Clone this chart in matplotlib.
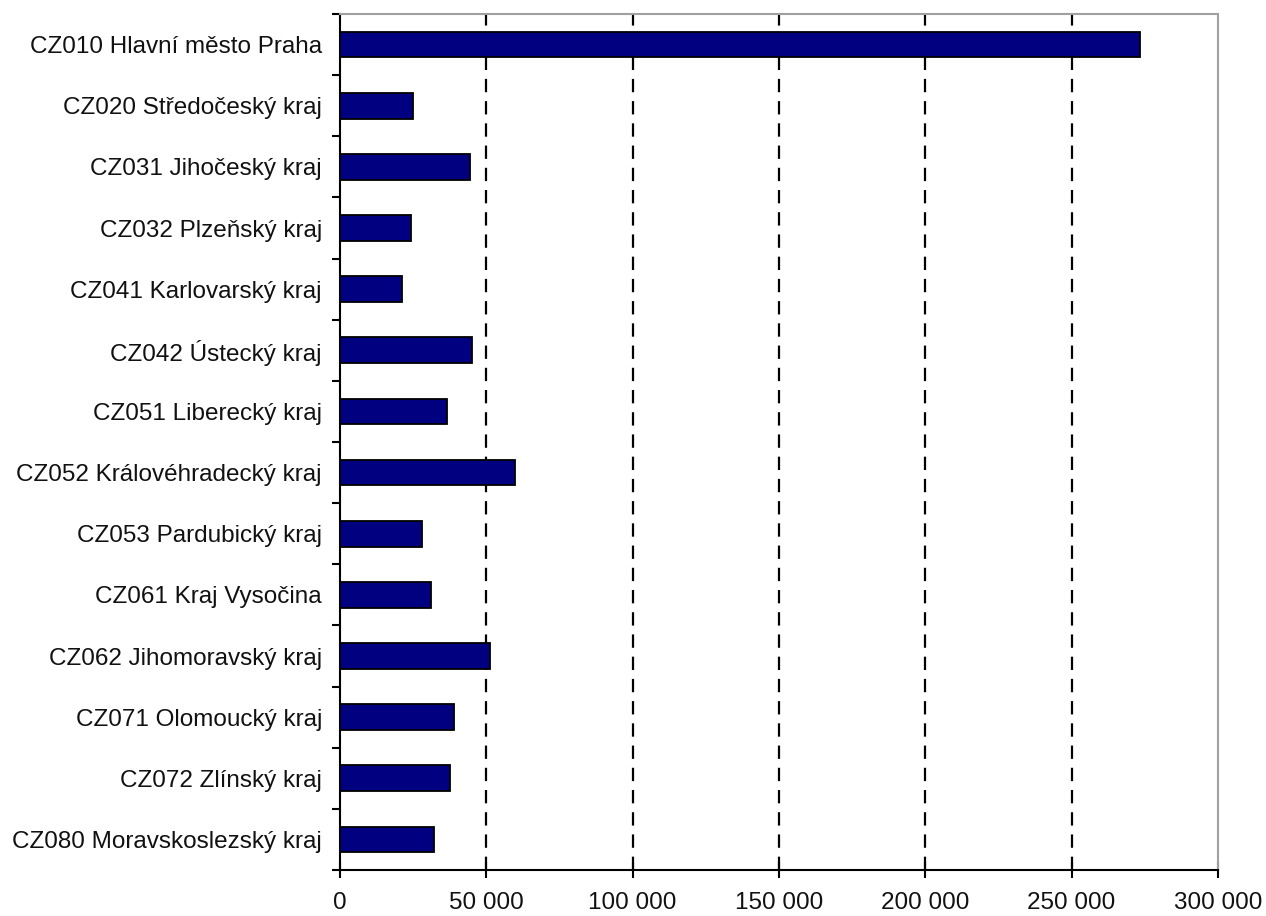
import matplotlib.pyplot as plt
import numpy as np
from matplotlib.ticker import FuncFormatter

plt.rcParams['font.family'] = ['Liberation Sans', 'DejaVu Sans']

regions = ['CZ010 Hlavní město Praha', 'CZ020 Středočeský kraj', 'CZ031 Jihočeský kraj',
           'CZ032 Plzeňský kraj', 'CZ041 Karlovarský kraj', 'CZ042 Ústecký kraj',
           'CZ051 Liberecký kraj', 'CZ052 Královéhradecký kraj', 'CZ053 Pardubický kraj',
           'CZ061 Kraj Vysočina', 'CZ062 Jihomoravský kraj', 'CZ071 Olomoucký kraj',
           'CZ072 Zlínský kraj', 'CZ080 Moravskoslezský kraj']
values = [273400, 25000, 44400, 24300, 21100, 45200, 36600, 59800, 28100, 31200,
          51300, 39000, 37500, 32000]
x_ticks = [0, 50000, 100000, 150000, 200000, 250000, 300000]

fig = plt.figure(figsize=(12.66, 9.16), dpi=100)
ax = fig.add_axes([0.2686, 0.0502, 0.6934, 0.9345])

y = np.arange(len(regions))
ax.barh(y, values, height=0.42, color='#000080', edgecolor='black', linewidth=1.3, zorder=3)

ax.set_xlim(0, 300000)
ax.set_ylim(len(regions) - 0.5, -0.5)
ax.set_xticks(x_ticks)
ax.xaxis.set_major_formatter(FuncFormatter(lambda v, p: f'{int(v):,}'.replace(',', ' ')))
ax.set_yticks(y)
ax.set_yticklabels(regions)
ax.set_yticks(np.arange(len(regions) + 1) - 0.5, minor=True)

ax.tick_params(axis='y', which='major', length=0, pad=13, labelsize=17.5, labelcolor='#111111')
ax.tick_params(axis='y', which='minor', length=6, width=1.5, direction='out')
ax.tick_params(axis='x', length=12, width=1.5, direction='inout', labelsize=17.5,
               pad=10, labelcolor='#111111')

for v in x_ticks[1:-1]:
    ax.axvline(v, color='black', linestyle=(0, (6, 4)), linewidth=1.6, zorder=1)

ax.spines['left'].set_linewidth(1.5)
ax.spines['bottom'].set_linewidth(1.5)
ax.spines['top'].set_color('#a0a0a0')
ax.spines['right'].set_color('#a0a0a0')
ax.spines['top'].set_linewidth(1.5)
ax.spines['right'].set_linewidth(1.5)

fig.savefig('out.png', dpi=100)
